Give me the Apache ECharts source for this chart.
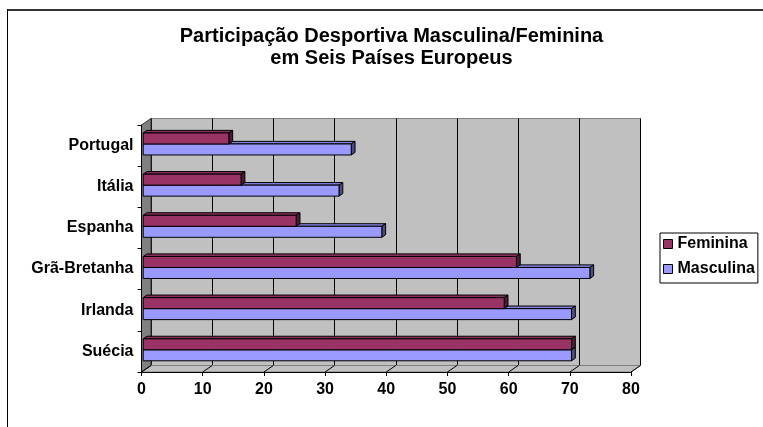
<!DOCTYPE html>
<html><head><meta charset="utf-8">
<script src="https://cdn.jsdelivr.net/npm/echarts@6/dist/echarts.min.js"></script>
<style>html,body{margin:0;padding:0;background:#fff}#c{width:763px;height:427px}</style>
</head><body><div id="c"></div>
<script>
// ---- data ----
const categories = ['Suécia', 'Irlanda', 'Grã-Bretanha', 'Espanha', 'Itália', 'Portugal'];
const feminina = [70, 59, 61, 25, 16, 14];
const masculina = [70, 70, 73, 39, 32, 34];
const xTicks = [0, 10, 20, 30, 40, 50, 60, 70, 80];
const seriesNames = ['Feminina', 'Masculina'];
const titleLines = ['Participação Desportiva Masculina/Feminina', 'em Seis Países Europeus'];

// ---- style ----
const FONT = '"Liberation Sans", Arial, sans-serif';
const DX = 9.5, DY = -6.5;     // wall depth
const BDX = 3.8, BDY = -2.6;   // bar depth
const BAR_SHIFT = 1.7;
const COLORS = {
  Feminina: {front: '#993366', top: '#8a2e5c', side: '#4d1a33'},
  Masculina: {front: '#9999ff', top: '#8080dd', side: '#4d4d80'}
};

function barRenderer(colors, top, bottom) {
  return function (params, api) {
    const idx = api.value(1);
    const v = api.value(0);
    const p0 = api.coord([0, idx]);
    const p1 = api.coord([v, idx]);
    const h = api.size([0, 1])[1];
    const yc = p0[1];
    const x0 = p0[0] + BAR_SHIFT, x1 = p1[0] + BAR_SHIFT;
    const yt = yc + top * h, yb = yc + bottom * h;
    const st = {stroke: '#000', lineWidth: 1};
    return {type: 'group', children: [
      {type: 'polygon', shape: {points: [[x0, yt], [x1, yt], [x1 + BDX, yt + BDY], [x0 + BDX, yt + BDY]]}, style: Object.assign({fill: colors.top}, st)},
      {type: 'polygon', shape: {points: [[x1, yt], [x1 + BDX, yt + BDY], [x1 + BDX, yb + BDY], [x1, yb]]}, style: Object.assign({fill: colors.side}, st)},
      {type: 'rect', shape: {x: x0, y: yt, width: x1 - x0, height: yb - yt}, style: Object.assign({fill: colors.front}, st)}
    ]};
  };
}

function decorRenderer(params, api) {
  const cs = params.coordSys;
  const bottom = cs.y + cs.height;
  const v = api.value(0);
  const x = api.coord([v, 0])[0];
  const children = [];
  if (params.dataIndex === 0) {
    children.push({type: 'polygon', shape: {points: [[cs.x, bottom], [cs.x + DX, bottom + DY], [cs.x + cs.width + DX, bottom + DY], [cs.x + cs.width, bottom]]},
      style: {fill: '#c0c0c0', stroke: '#808080', lineWidth: 1}});
    children.push({type: 'polygon', shape: {points: [[cs.x, cs.y], [cs.x + DX, cs.y + DY], [cs.x + DX, bottom + DY], [cs.x, bottom]]},
      style: {fill: '#808080', stroke: '#333', lineWidth: 1}});
  }
  children.push({type: 'line', shape: {x1: x, y1: bottom, x2: x + DX, y2: bottom + DY}, style: {stroke: '#000', lineWidth: 1}});
  return {type: 'group', children: children};
}

const labelStyle = {fontFamily: FONT, fontSize: 16, fontWeight: 'bold', color: '#000'};

const chart = echarts.init(document.getElementById('c'), null, {renderer: 'canvas'});
chart.setOption({
  animation: false,
  backgroundColor: '#fff',
  title: {
    text: titleLines.join('\n'), left: 386.5, top: 20, padding: 5, textAlign: 'center',
    textStyle: {fontFamily: FONT, fontSize: 20, fontWeight: 'bold', color: '#000', lineHeight: 22}
  },
  legend: {
    orient: 'vertical', left: 660, top: 233, itemWidth: 9, itemHeight: 9, itemGap: 9,
    borderColor: '#000', borderWidth: 1, padding: [3, 3, 6, 3], selectedMode: false,
    data: [
      {name: seriesNames[0], icon: 'rect', itemStyle: {color: COLORS.Feminina.front, borderColor: '#000', borderWidth: 1}},
      {name: seriesNames[1], icon: 'rect', itemStyle: {color: COLORS.Masculina.front, borderColor: '#000', borderWidth: 1}}
    ],
    textStyle: labelStyle
  },
  grid: [
    {left: 141.5, top: 125, width: 489.5, height: 247},
    {left: 151, top: 118.5, width: 489.5, height: 247, show: true, backgroundColor: '#c0c0c0', borderColor: '#808080', borderWidth: 1}
  ],
  xAxis: [
    {gridIndex: 0, type: 'value', min: 0, max: 80, interval: 10, z: 5,
      splitLine: {show: false},
      axisLine: {show: true, lineStyle: {color: '#000'}},
      axisTick: {show: true, length: 4, lineStyle: {color: '#000'}},
      axisLabel: Object.assign({margin: 10}, labelStyle)},
    {gridIndex: 1, type: 'value', min: 0, max: 80, interval: 10,
      axisLine: {show: false}, axisTick: {show: false}, axisLabel: {show: false},
      splitLine: {show: true, lineStyle: {color: '#000', width: 1}}}
  ],
  yAxis: [
    {gridIndex: 0, type: 'category', data: categories, z: 5,
      axisLine: {show: true, lineStyle: {color: '#000'}},
      axisTick: {show: true, length: 4, lineStyle: {color: '#000'}},
      axisLabel: Object.assign({margin: 8}, labelStyle)},
    {gridIndex: 1, type: 'category', data: categories, show: false}
  ],
  series: [
    {type: 'custom', name: 'decor', xAxisIndex: 0, yAxisIndex: 0, clip: false, z: 1, silent: true,
      data: xTicks.map(v => [v, categories[0]]), renderItem: decorRenderer},
    {type: 'custom', name: seriesNames[1], xAxisIndex: 0, yAxisIndex: 0, clip: false, z: 2,
      itemStyle: {color: COLORS.Masculina.front},
      data: masculina.map((v, i) => [v, categories[i]]),
      renderItem: barRenderer(COLORS.Masculina, -0.039, 0.228)},
    {type: 'custom', name: seriesNames[0], xAxisIndex: 0, yAxisIndex: 0, clip: false, z: 3,
      itemStyle: {color: COLORS.Feminina.front},
      data: feminina.map((v, i) => [v, categories[i]]),
      renderItem: barRenderer(COLORS.Feminina, -0.306, -0.039)}
  ],
  graphic: [
    {type: 'line', shape: {x1: 7, y1: 10, x2: 763, y2: 10}, style: {stroke: '#333', lineWidth: 2}, silent: true},
    {type: 'line', shape: {x1: 7.5, y1: 9, x2: 7.5, y2: 427}, style: {stroke: '#000', lineWidth: 1}, silent: true}
  ]
});
</script>
</body></html>
